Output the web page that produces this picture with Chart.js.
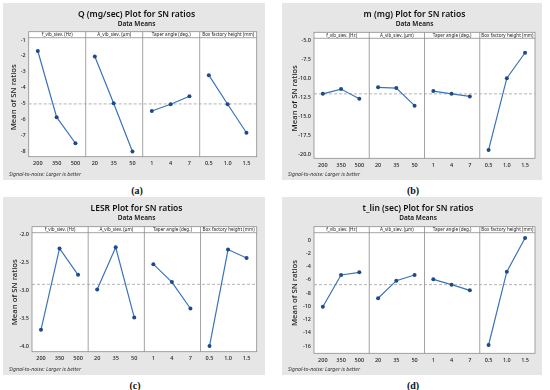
<!DOCTYPE html>
<html>
<head>
<meta charset="utf-8">
<script src="https://cdn.jsdelivr.net/npm/chart.js@4.4.1/dist/chart.umd.min.js"></script>
<style>
  body { margin: 0; width: 550px; height: 390px; overflow: hidden; background: #fff; position: relative; }
  .box { position: absolute; background: #e6e6e6; }
  canvas { position: absolute; }
  .tag { position: absolute; font: bold 10px "Liberation Serif", serif; color: #111; transform: translate(-50%, -50%); }
</style>
</head>
<body>
<div class="box" style="left:3px; top:3px; width:262px; height:177px"></div>
<div class="box" style="left:282px; top:3px; width:260px; height:177px"></div>
<div class="box" style="left:3px; top:197px; width:262px; height:178px"></div>
<div class="box" style="left:282px; top:197px; width:260px; height:178px"></div>
<canvas id="chartQ" width="267" height="177" style="left:3px; top:3px"></canvas>
<canvas id="chartM" width="265" height="177" style="left:282px; top:3px"></canvas>
<canvas id="chartL" width="267" height="178" style="left:3px; top:197px"></canvas>
<canvas id="chartT" width="272" height="178" style="left:282px; top:197px"></canvas>
<div class="tag" style="left:137px; top:190px">(a)</div>
<div class="tag" style="left:413px; top:190px">(b)</div>
<div class="tag" style="left:135px; top:385px">(c)</div>
<div class="tag" style="left:413px; top:385px">(d)</div>
<script>
// factors (header strip) and their levels (x tick labels)
const factors = ['f_vib_siev. (Hz)', 'A_vib_siev. (μm)', 'Taper angle (deg.)', 'Box factory height (mm)'];
const levels = [['200', '350', '500'], ['20', '35', '50'], ['1', '4', '7'], ['0.5', '1.0', '1.5']];

// mean of SN ratios per level, one row per factor
const qSN = [[-1.69, -5.83, -7.46], [-2.04, -4.96, -7.98], [-5.44, -5.02, -4.52], [-3.20, -5.02, -6.80]];
const mSN = [[-12.05, -11.43, -12.70], [-11.20, -11.30, -13.60], [-11.70, -12.05, -12.40], [-19.40, -10.00, -6.67]];
const lesrSN = [[-3.70, -2.25, -2.72], [-2.98, -2.23, -3.48], [-2.53, -2.85, -3.32], [-3.99, -2.27, -2.42]];
const tlinSN = [[-10.07, -5.28, -4.88], [-8.80, -6.14, -5.28], [-5.94, -6.74, -7.60], [-15.85, -4.78, 0.30]];

// overall means (dashed reference line)
const qMean = -5.0;
const mMean = -12.06;
const lesrMean = -2.89;
const tlinMean = -6.74;

// y tick values
const qTicks = [-1, -2, -3, -4, -5, -6, -7, -8];
const mTicks = [-5, -7.5, -10, -12.5, -15, -17.5, -20];
const lesrTicks = [-2, -2.5, -3, -3.5, -4];
const tlinTicks = [0, -2, -4, -6, -8, -10, -12, -14, -16];

Chart.defaults.font.family = '"Noto Sans", "Open Sans", sans-serif';
Chart.defaults.color = '#222';

// where the three levels sit inside each factor cell
const offs = [0.16, 0.49, 0.82];
const tickPos = [];
factors.forEach((f, i) => offs.forEach(o => tickPos.push(i + o)));
const tickLabels = levels.flat();

const STRIP = 6;

function snChart(id, title, values, mean, yTicks, digits, yMin, yMax, g) {
    const frame = {
        id: 'frame',
        beforeDraw(chart) {
            const a = chart.chartArea, c = chart.ctx;
            c.save();
            c.fillStyle = '#fff';
            c.fillRect(a.left, a.top - STRIP, a.right - a.left, a.bottom - a.top + STRIP);
            c.restore();
        },
        beforeDatasetsDraw(chart) {
            const a = chart.chartArea, c = chart.ctx, xs = chart.scales.x;
            c.save();
            c.strokeStyle = '#8c8c8c';
            c.lineWidth = 0.8;
            c.strokeRect(a.left, a.top - STRIP, a.right - a.left, a.bottom - a.top + STRIP);
            c.beginPath();
            c.moveTo(a.left, a.top);
            c.lineTo(a.right, a.top);
            for (let i = 1; i < factors.length; i++) {
                const px = xs.getPixelForValue(i);
                c.moveTo(px, a.top - STRIP);
                c.lineTo(px, a.bottom);
            }
            c.stroke();
            c.fillStyle = '#222';
            c.font = '4.6px "Noto Sans", sans-serif';
            c.textAlign = 'center';
            c.textBaseline = 'middle';
            factors.forEach((f, i) => c.fillText(f, xs.getPixelForValue(i + 0.5), a.top - STRIP / 2));
            c.restore();
        },
        afterDraw(chart) {
            const c = chart.ctx;
            c.save();
            c.fillStyle = '#333';
            c.font = 'italic 5.2px "Noto Sans", sans-serif';
            c.textBaseline = 'middle';
            c.fillText('Signal-to-noise: Larger is better', 6, chart.height - 5.5);
            c.restore();
        }
    };

    const datasets = values.map((row, i) => ({
        data: row.map((v, j) => ({x: i + offs[j], y: v})),
        borderColor: '#3b73b9',
        borderWidth: 1.2,
        pointRadius: 2,
        pointBackgroundColor: '#1d4a8a',
        pointBorderWidth: 0,
        tension: 0
    }));
    datasets.push({
        data: [{x: 0, y: mean}, {x: factors.length, y: mean}],
        borderColor: '#a0a0a0',
        borderWidth: 0.8,
        borderDash: [3, 2],
        pointRadius: 0
    });

    return new Chart(document.getElementById(id), {
        type: 'line',
        data: {datasets: datasets},
        plugins: [frame],
        options: {
            responsive: false,
            animation: false,
            layout: {padding: 0},
            plugins: {
                legend: {display: false},
                tooltip: {enabled: false},
                title: {
                    display: true,
                    text: title,
                    color: '#111',
                    font: {size: 8.5, weight: '600', lineHeight: 1.2},
                    padding: {top: 6.9, bottom: 0}
                },
                subtitle: {
                    display: true,
                    text: 'Data Means',
                    color: '#111',
                    font: {size: 6.5, weight: '600', lineHeight: 1.2},
                    padding: {top: 0, bottom: g.areaT - g.top - 24.9}
                }
            },
            scales: {
                x: {
                    type: 'linear',
                    min: 0,
                    max: factors.length,
                    afterBuildTicks: s => { s.ticks = tickPos.map(v => ({value: v})); },
                    afterFit: s => { s.height = g.h - (g.areaB - g.top); },
                    grid: {display: false, drawTicks: false},
                    border: {display: false},
                    ticks: {
                        autoSkip: false,
                        maxRotation: 0,
                        padding: 3.5,
                        font: {size: 5.5, weight: '500'},
                        callback: (v, k) => tickLabels[k]
                    }
                },
                y: {
                    type: 'linear',
                    min: yMin,
                    max: yMax,
                    afterBuildTicks: s => { s.ticks = yTicks.map(v => ({value: v})); },
                    afterFit: s => { s.width = g.areaL - g.left; },
                    grid: {display: false, drawTicks: false},
                    border: {display: false},
                    ticks: {
                        padding: 3,
                        font: {size: 5.5, weight: '500'},
                        callback: v => v.toFixed(digits)
                    },
                    title: {
                        display: true,
                        text: 'Mean of SN ratios',
                        color: '#1a1a1a',
                        font: {size: 7.8, weight: '500', lineHeight: 1.2},
                        padding: {top: g.yTitleX - 4.7, bottom: 0}
                    }
                },
                yR: {
                    type: 'linear',
                    position: 'right',
                    grid: {display: false, drawTicks: false},
                    border: {display: false},
                    ticks: {display: false},
                    afterFit: s => { s.width = g.left + g.w - g.areaR; }
                }
            }
        }
    });
}

snChart('chartQ', 'Q (mg/sec) Plot for SN ratios', qSN, qMean, qTicks, 0, -8.3, -0.86,
    {left: 3, top: 3, w: 267, h: 177, areaL: 28.7, areaR: 256.7, areaT: 37.7, areaB: 156.7, yTitleX: 11});
snChart('chartM', 'm (mg) Plot for SN ratios', mSN, mMean, mTicks, 1, -20.5, -4.78,
    {left: 282, top: 3, w: 265, h: 177, areaL: 314, areaR: 535, areaT: 38.3, areaB: 158.3, yTitleX: 13});
snChart('chartL', 'LESR Plot for SN ratios', lesrSN, lesrMean, lesrTicks, 1, -4.09, -1.97,
    {left: 3, top: 197, w: 267, h: 178, areaL: 32, areaR: 256.7, areaT: 232.7, areaB: 351.7, yTitleX: 12});
snChart('chartT', 't_lin (sec) Plot for SN ratios', tlinSN, tlinMean, tlinTicks, 0, -17.1, 1.1,
    {left: 282, top: 197, w: 272, h: 178, areaL: 314, areaR: 535, areaT: 232.7, areaB: 353.3, yTitleX: 12.5});
</script>
</body>
</html>
